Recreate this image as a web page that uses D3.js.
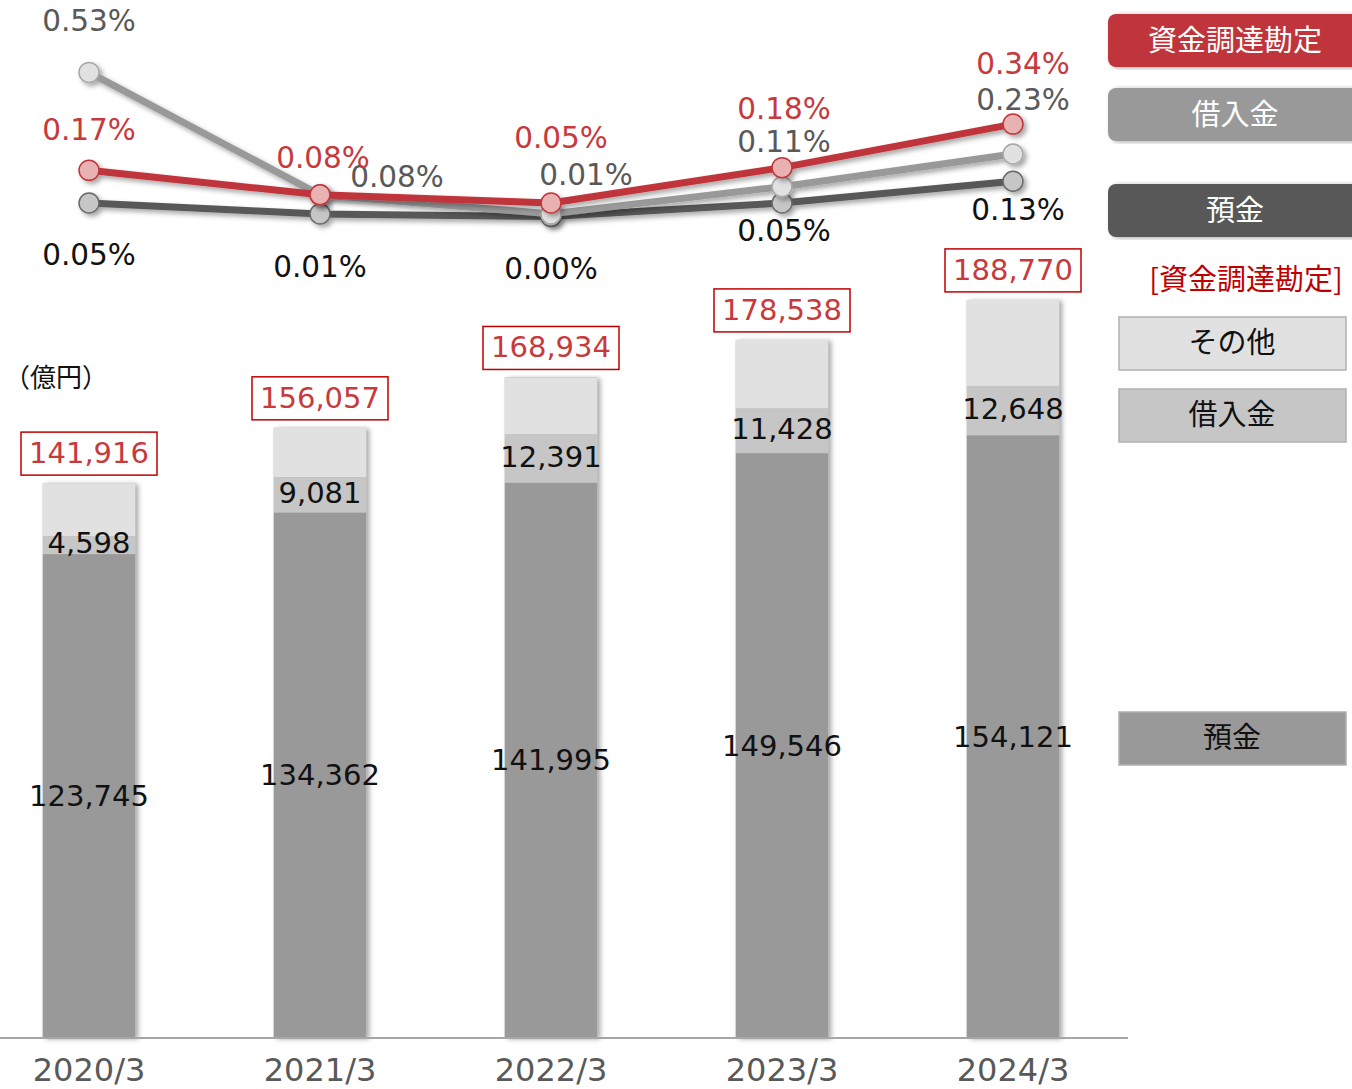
<!DOCTYPE html>
<html><head><meta charset="utf-8">
<script src="https://cdn.jsdelivr.net/npm/d3@7"></script>
<style>
html,body{margin:0;padding:0;background:#fff;}
svg{display:block;}
text{font-family:"DejaVu Sans","Noto Sans CJK JP",sans-serif;}
.jp{font-family:"Noto Sans CJK JP","DejaVu Sans",sans-serif;}
</style></head>
<body>
<svg id="chart" width="1352" height="1089"></svg>
<script>
// ---- data ----
const categories = ["2020/3","2021/3","2022/3","2023/3","2024/3"];
const totals    = [141916,156057,168934,178538,188770];
const deposits  = [123745,134362,141995,149546,154121];
const borrowings= [4598,9081,12391,11428,12648];
const others    = totals.map((t,i)=>t-deposits[i]-borrowings[i]);
const rateFunding  = [0.17,0.08,0.05,0.18,0.34];   // 資金調達勘定
const rateBorrow   = [0.53,0.08,0.01,0.11,0.23];   // 借入金
const rateDeposit  = [0.05,0.01,0.00,0.05,0.13];   // 預金

// ---- layout (label nudges, not data) ----
const nudgeFunding = [[0,-40],[3,-37],[10,-65],[2,-59],[10,-60]];
const nudgeBorrow  = [[0,-51],[77,-18],[35,-39],[2,-45],[10,-54]];
const nudgeDeposit = [[0,52],[0,53],[0,52],[2,28],[5,29]];

const svg = d3.select("#chart");
const defs = svg.append("defs");
defs.append("filter").attr("id","barShadow").attr("x","-20%").attr("y","-5%").attr("width","150%").attr("height","110%")
  .append("feDropShadow").attr("dx",3).attr("dy",1).attr("stdDeviation",2.5).attr("flood-color","#000").attr("flood-opacity",0.35);
defs.append("filter").attr("id","lineShadow").attr("x","-10%").attr("y","-50%").attr("width","120%").attr("height","200%")
  .append("feDropShadow").attr("dx",3).attr("dy",3).attr("stdDeviation",2.5).attr("flood-color","#000").attr("flood-opacity",0.35);

const x = d3.scaleBand().domain(categories).range([-26.5,1128.5]).paddingInner(0.6).paddingOuter(0.3);
const y = d3.scaleLinear().domain([0,200000]).range([1038,256]);
const yl = d3.scaleLinear().domain([0,0.53]).range([216.6,72.4]);
const cx = c => x(c)+x.bandwidth()/2;

// bars
const stackData = categories.map((c,i)=>({cat:c,dep:deposits[i],bor:borrowings[i],oth:others[i]}));
const stack = d3.stack().keys(["dep","bor","oth"])(stackData);
const barColors = {dep:"#999999",bor:"#c6c6c6",oth:"#e1e1e1"};
const barG = svg.append("g");
categories.forEach((c,i)=>{
  barG.append("rect").attr("x",x(c)).attr("y",y(totals[i])).attr("width",x.bandwidth())
    .attr("height",y(0)-y(totals[i])).attr("fill","#999").attr("filter","url(#barShadow)");
});
stack.forEach(layer=>{
  barG.selectAll(null).data(layer).enter().append("rect")
    .attr("x",d=>x(d.data.cat)).attr("y",d=>y(d[1])).attr("width",x.bandwidth())
    .attr("height",d=>y(d[0])-y(d[1])).attr("fill",barColors[layer.key]);
});

// axis baseline
const axis = svg.append("g").attr("transform","translate(0,1038)").call(d3.axisBottom(x).tickSize(0).tickPadding(19));
axis.select(".domain").attr("d","M0,0H1128").attr("stroke","#a6a6a6").attr("stroke-width",2);
axis.selectAll("text").attr("font-size",32).attr("fill","#595959").attr("font-family","DejaVu Sans").attr("dy","0.75em");

// bar labels
const fmt = d3.format(",");
categories.forEach((c,i)=>{
  svg.append("text").attr("x",cx(c)).attr("y",(y(0)+y(deposits[i]))/2).attr("text-anchor","middle")
    .attr("dominant-baseline","central").attr("font-size",29).attr("fill","#111").text(fmt(deposits[i]));
  svg.append("text").attr("x",cx(c)).attr("y",(y(deposits[i])+y(deposits[i]+borrowings[i]))/2-2).attr("text-anchor","middle")
    .attr("dominant-baseline","central").attr("font-size",29).attr("fill","#111").text(fmt(borrowings[i]));
  const top = y(totals[i]);
  svg.append("rect").attr("x",cx(c)-68).attr("y",top-51).attr("width",136).attr("height",43)
    .attr("fill","#fff").attr("stroke","#c00000").attr("stroke-width",1.5);
  svg.append("text").attr("x",cx(c)).attr("y",top-30).attr("text-anchor","middle")
    .attr("dominant-baseline","central").attr("font-size",29).attr("fill","#c8393c").text(fmt(totals[i]));
});

svg.append("text").attr("class","jp").attr("x",4).attr("y",375).attr("dominant-baseline","central")
  .attr("font-size",26).attr("fill","#111").text("（億円）");

// lines
const series = [
  {vals:rateDeposit, line:"#595959", fill:"#c6c6c6", stroke:"#6a6a6a", txt:"#111", nudge:nudgeDeposit},
  {vals:rateBorrow,  line:"#999999", fill:"#e1e1e1", stroke:"#a8a8a8", txt:"#595959", nudge:nudgeBorrow},
  {vals:rateFunding, line:"#c0363b", fill:"#e8b2b2", stroke:"#c0363b", txt:"#c8393c", nudge:nudgeFunding}
];
const lineGen = d3.line().x((d,i)=>cx(categories[i])).y(d=>yl(d));
series.forEach(s=>{
  const g = svg.append("g").attr("filter","url(#lineShadow)");
  g.append("path").attr("d",lineGen(s.vals)).attr("fill","none").attr("stroke",s.line).attr("stroke-width",7)
    .attr("stroke-linejoin","round");
  g.selectAll("circle").data(s.vals).enter().append("circle")
    .attr("cx",(d,i)=>cx(categories[i])).attr("cy",d=>yl(d)).attr("r",10)
    .attr("fill",s.fill).attr("stroke",s.stroke).attr("stroke-width",1.5);
});
series.forEach(s=>{
  svg.append("g").selectAll("text").data(s.vals).enter().append("text")
    .attr("x",(d,i)=>cx(categories[i])+s.nudge[i][0]).attr("y",(d,i)=>yl(d)+s.nudge[i][1])
    .attr("text-anchor","middle").attr("dominant-baseline","central").attr("font-size",29.5)
    .attr("fill",s.txt).text(d=>d.toFixed(2)+"%");
});

// legends (lines)
const lineLegend = [
  {label:"資金調達勘定", fill:"#c0363b", y:14},
  {label:"借入金", fill:"#999999", y:88},
  {label:"預金", fill:"#595959", y:184}
];
lineLegend.forEach(l=>{
  svg.append("rect").attr("x",1108).attr("y",l.y).attr("width",260).attr("height",53).attr("rx",8)
    .attr("fill",l.fill).attr("filter","url(#barShadow)");
  svg.append("text").attr("class","jp").attr("x",1235).attr("y",l.y+24).attr("text-anchor","middle")
    .attr("dominant-baseline","central").attr("font-size",29).attr("fill","#fff").text(l.label);
});
svg.append("text").attr("class","jp").attr("x",1246).attr("y",277).attr("text-anchor","middle")
  .attr("dominant-baseline","central").attr("font-size",29).attr("fill","#c00000").text("[資金調達勘定]");

// legends (bars)
const barLegend = [
  {label:"その他", fill:"#e1e1e1", y:317},
  {label:"借入金", fill:"#c6c6c6", y:389},
  {label:"預金", fill:"#999999", y:712}
];
barLegend.forEach(l=>{
  svg.append("rect").attr("x",1119).attr("y",l.y).attr("width",227).attr("height",53)
    .attr("fill",l.fill).attr("stroke","#b0b0b0").attr("stroke-width",1.5);
  svg.append("text").attr("class","jp").attr("x",1232).attr("y",l.y+23).attr("text-anchor","middle")
    .attr("dominant-baseline","central").attr("font-size",29).attr("fill","#111").text(l.label);
});
</script>
</body></html>
